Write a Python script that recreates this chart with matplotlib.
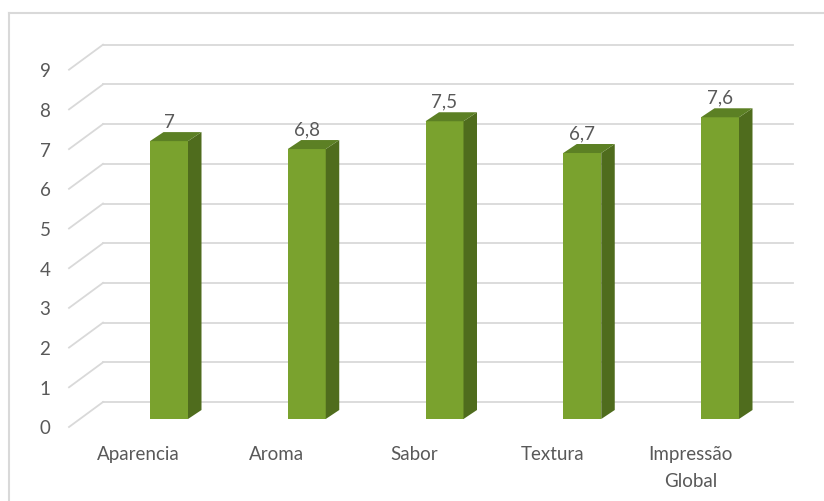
import matplotlib
matplotlib.use("Agg")
import matplotlib.pyplot as plt
from matplotlib.patches import Polygon
from matplotlib.lines import Line2D

categories = ["Aparencia", "Aroma", "Sabor", "Textura", "Impressão\nGlobal"]
values = [7, 6.8, 7.5, 6.7, 7.6]
value_labels = ["7", "6,8", "7,5", "6,7", "7,6"]
yticks = list(range(0, 10))

plt.rcParams['font.family'] = ['Lato', 'DejaVu Sans']

W, H = 824, 501
fig = plt.figure(figsize=(W / 100, H / 100), dpi=100)
ax = fig.add_axes([0, 0, 1, 1])

# pixel scale
sx = 137.75   # px per category
sy = 39.7     # px per unit
x0 = 169      # pixel x of category 0 (bar front centre)
y0 = 419      # pixel y of value 0 at bar front plane
ax.set_xlim((0 - x0) / sx, (W - x0) / sx)
ax.set_ylim((y0 - H) / sy, (y0 - 0) / sy)
ax.axis('off')

def px(dx):
    return dx / sx

def py(dy):
    return dy / sy

grid_c = '#D9D9D9'
text_c = '#595959'

# back wall and floor-front positions
back_x0, back_x1 = px(103 - x0), px(793 - x0)
front_x = px(69 - x0)
back_dy, front_dy = py(17), py(-8)

for v in yticks:
    ax.plot([back_x0, back_x1], [v + back_dy, v + back_dy], color=grid_c, lw=1.3, zorder=1)
    ax.plot([front_x, back_x0], [v + front_dy, v + back_dy], color=grid_c, lw=1.3, zorder=1)
    ax.text(px(45 - x0), v + front_dy - py(2), str(v), ha='center', va='center',
            fontsize=13.5, color=text_c)

# bars
w = px(38)
ddx, ddy = px(13.5), py(9)
front_c = '#7AA22E'
side_c = '#4F6C1D'
top_c = '#5C8024'
xs = list(range(len(categories)))
ax.bar(xs, values, width=w, color=front_c, zorder=3, linewidth=0)
for i, v in zip(xs, values):
    side = Polygon([(i + w / 2, 0), (i + w / 2 + ddx, ddy), (i + w / 2 + ddx, v + ddy), (i + w / 2, v)],
                   closed=True, facecolor=side_c, edgecolor='none', zorder=3)
    top = Polygon([(i - w / 2, v), (i + w / 2, v), (i + w / 2 + ddx, v + ddy), (i - w / 2 + ddx, v + ddy)],
                  closed=True, facecolor=top_c, edgecolor='none', zorder=3)
    ax.add_patch(side)
    ax.add_patch(top)

for i, v, lab in zip(xs, values, value_labels):
    ax.text(i, v + ddy + py(10), lab, ha='center', va='center', fontsize=13.5, color=text_c, zorder=4)

for i, c in zip(xs, categories):
    ax.text(i + px(138.5 - 169) + (i * px(0.25)), py(y0 - 446), c, ha='center', va='top',
            fontsize=13.5, color=text_c, linespacing=1.72, multialignment='center')

# chart frame (cropped: only top and left edges visible)
fig.add_artist(Line2D([9 / W, 1], [1 - 13 / H, 1 - 13 / H], transform=fig.transFigure,
                      color=grid_c, lw=1.5))
fig.add_artist(Line2D([9 / W, 9 / W], [0, 1 - 13 / H], transform=fig.transFigure,
                      color=grid_c, lw=1.5))

fig.savefig("out.png", dpi=100, facecolor='white')
